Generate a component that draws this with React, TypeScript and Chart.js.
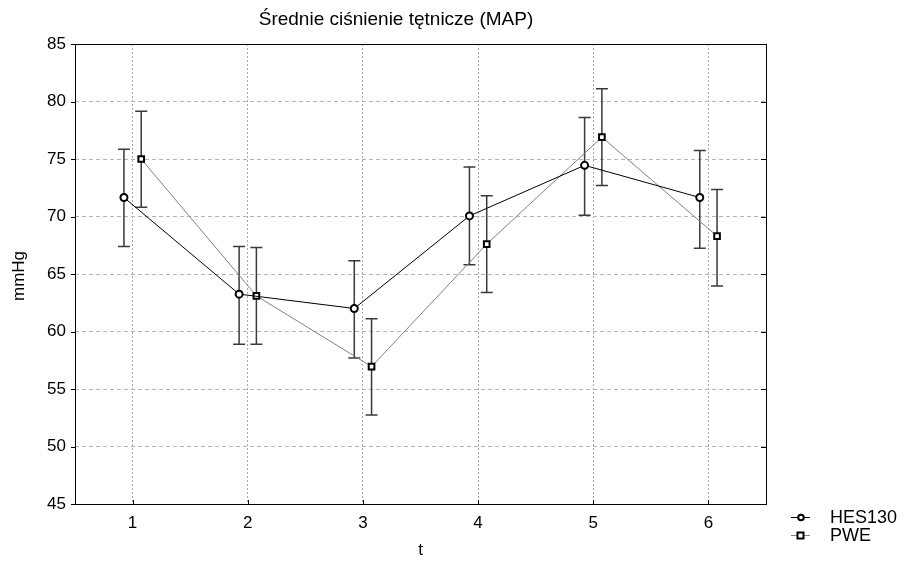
import React, { useEffect, useRef } from "react";
import { Chart, registerables } from "chart.js";

Chart.register(...registerables);

const titleText = "Średnie ciśnienie tętnicze (MAP)";
const xTitle = "t";
const yTitle = "mmHg";
const tValues = [1, 2, 3, 4, 5, 6];
const yTicks = [45, 50, 55, 60, 65, 70, 75, 80, 85];
const seriesNames = ["HES130", "PWE"];
const xOffset = 0.075;

const hesMean = [71.65, 63.25, 62.0, 70.05, 74.45, 71.65];
const hesLow = [67.4, 58.9, 57.7, 65.8, 70.1, 67.25];
const hesHigh = [75.85, 67.4, 66.15, 74.3, 78.6, 75.75];

const pweMean = [75.0, 63.1, 56.95, 67.6, 76.9, 68.3];
const pweLow = [70.8, 58.9, 52.75, 63.4, 72.7, 63.95];
const pweHigh = [79.15, 67.3, 61.1, 71.8, 81.1, 72.35];

const FONT = "'Liberation Sans', Arial, sans-serif";

export default function App() {
  const ref = useRef<HTMLCanvasElement | null>(null);

  useEffect(() => {
    const canvas = ref.current;
    if (!canvas) return;

    const hesData = tValues.map((t, i) => ({ x: t - xOffset, y: hesMean[i] }));
    const pweData = tValues.map((t, i) => ({ x: t + xOffset, y: pweMean[i] }));

    const errorSets = [
      { xs: tValues.map((t) => t - xOffset), lo: hesLow, hi: hesHigh },
      { xs: tValues.map((t) => t + xOffset), lo: pweLow, hi: pweHigh },
    ];

    const framePlugin = {
      id: "frame",
      beforeDatasetsDraw(chart: any) {
        const ctx = chart.ctx;
        const xs = chart.scales.x;
        const ys = chart.scales.y;
        ctx.save();
        ctx.strokeStyle = "#3a3a3a";
        ctx.lineWidth = 1.5;
        errorSets.forEach((s) => {
          s.xs.forEach((xv, i) => {
            const px = xs.getPixelForValue(xv);
            const top = ys.getPixelForValue(s.hi[i]);
            const bot = ys.getPixelForValue(s.lo[i]);
            ctx.beginPath();
            ctx.moveTo(px, top);
            ctx.lineTo(px, bot);
            ctx.moveTo(px - 6, top);
            ctx.lineTo(px + 6, top);
            ctx.moveTo(px - 6, bot);
            ctx.lineTo(px + 6, bot);
            ctx.stroke();
          });
        });
        ctx.restore();
      },
      afterDraw(chart: any) {
        const ctx = chart.ctx;
        const a = chart.chartArea;
        const xs = chart.scales.x;
        const ys = chart.scales.y;
        ctx.save();
        ctx.strokeStyle = "#000";
        ctx.lineWidth = 1;
        ctx.strokeRect(Math.round(a.left) + 0.5, Math.round(a.top) + 0.5, Math.round(a.right - a.left), Math.round(a.bottom - a.top));
        ctx.beginPath();
        yTicks.forEach((v) => {
          const py = Math.round(ys.getPixelForValue(v)) + 0.5;
          ctx.moveTo(a.left - 4, py);
          ctx.lineTo(a.left, py);
          ctx.moveTo(a.right - 5, py);
          ctx.lineTo(a.right, py);
        });
        tValues.forEach((v) => {
          const px = Math.round(xs.getPixelForValue(v)) + 0.5;
          ctx.moveTo(px, a.bottom);
          ctx.lineTo(px, a.bottom - 4);
        });
        ctx.stroke();

        ctx.fillStyle = "#000";
        ctx.font = `19px ${FONT}`;
        ctx.textAlign = "center";
        ctx.textBaseline = "middle";
        ctx.fillText(titleText, 396, 20);

        ctx.font = `17px ${FONT}`;
        ctx.fillText(xTitle, (a.left + a.right) / 2, 550);
        ctx.save();
        ctx.translate(19, 276);
        ctx.rotate(-Math.PI / 2);
        ctx.fillText(yTitle, 0, 0);
        ctx.restore();

        const rows = [
          { y: 517, color: "#000", style: "circle" },
          { y: 535, color: "#808080", style: "rect" },
        ];
        rows.forEach((r, i) => {
          ctx.strokeStyle = r.color;
          ctx.lineWidth = 1;
          ctx.beginPath();
          ctx.moveTo(791, r.y + 0.5);
          ctx.lineTo(810, r.y + 0.5);
          ctx.stroke();
          ctx.fillStyle = "#fff";
          ctx.strokeStyle = "#000";
          ctx.lineWidth = 2;
          if (r.style === "circle") {
            ctx.beginPath();
            ctx.arc(801, r.y + 0.5, 2.8, 0, Math.PI * 2);
            ctx.fill();
            ctx.stroke();
          } else {
            ctx.fillRect(797.5, r.y - 2.5, 6, 6);
            ctx.strokeRect(797.5, r.y - 2.5, 6, 6);
          }
          ctx.fillStyle = "#000";
          ctx.font = `18px ${FONT}`;
          ctx.textAlign = "left";
          ctx.textBaseline = "middle";
          ctx.fillText(seriesNames[i], 830, r.y + 1);
        });
        ctx.restore();
      },
    };

    const chart = new Chart(canvas, {
      type: "line",
      data: {
        datasets: [
          {
            label: seriesNames[0],
            data: hesData,
            borderColor: "#000",
            borderWidth: 1,
            pointStyle: "circle",
            pointRadius: 3.5,
            pointBorderWidth: 2,
            pointBackgroundColor: "#fff",
            pointBorderColor: "#000",
            tension: 0,
          },
          {
            label: seriesNames[1],
            data: pweData,
            borderColor: "#808080",
            borderWidth: 1,
            pointStyle: "rect",
            pointRadius: 4,
            pointBorderWidth: 2,
            pointBackgroundColor: "#fff",
            pointBorderColor: "#000",
            tension: 0,
          },
        ],
      },
      options: {
        animation: false,
        responsive: false,
        maintainAspectRatio: false,
        layout: { padding: { top: 44, right: 139, bottom: 0, left: 0 } },
        plugins: {
          legend: { display: false },
          title: { display: false },
          tooltip: { enabled: false },
        },
        scales: {
          x: {
            type: "linear",
            min: 0.5,
            max: 6.5,
            afterBuildTicks: (scale: any) => {
              scale.ticks = tValues.map((v) => ({ value: v }));
            },
            afterFit: (scale: any) => {
              scale.height = 57;
            },
            ticks: {
              color: "#000",
              font: { family: FONT, size: 17 },
              padding: 9,
              maxRotation: 0,
            },
            grid: { color: "#a8a8a8", drawTicks: false, lineWidth: 1 },
            border: { display: false, dash: [2, 2] },
          },
          y: {
            type: "linear",
            min: 45,
            max: 85,
            afterBuildTicks: (scale: any) => {
              scale.ticks = yTicks.map((v) => ({ value: v }));
            },
            afterFit: (scale: any) => {
              scale.width = 75;
            },
            ticks: {
              color: "#000",
              font: { family: FONT, size: 17 },
              padding: 9,
            },
            grid: { color: "#b4b4b4", drawTicks: false, lineWidth: 1 },
            border: { display: false, dash: [4, 3] },
          },
        },
      },
      plugins: [framePlugin],
    } as any);

    return () => chart.destroy();
  }, []);

  return (
    <div style={{ position: "fixed", left: 0, top: 0, width: 905, height: 561, background: "#fff" }}>
      <canvas ref={ref} width={905} height={561} style={{ width: 905, height: 561, display: "block" }} />
    </div>
  );
}
